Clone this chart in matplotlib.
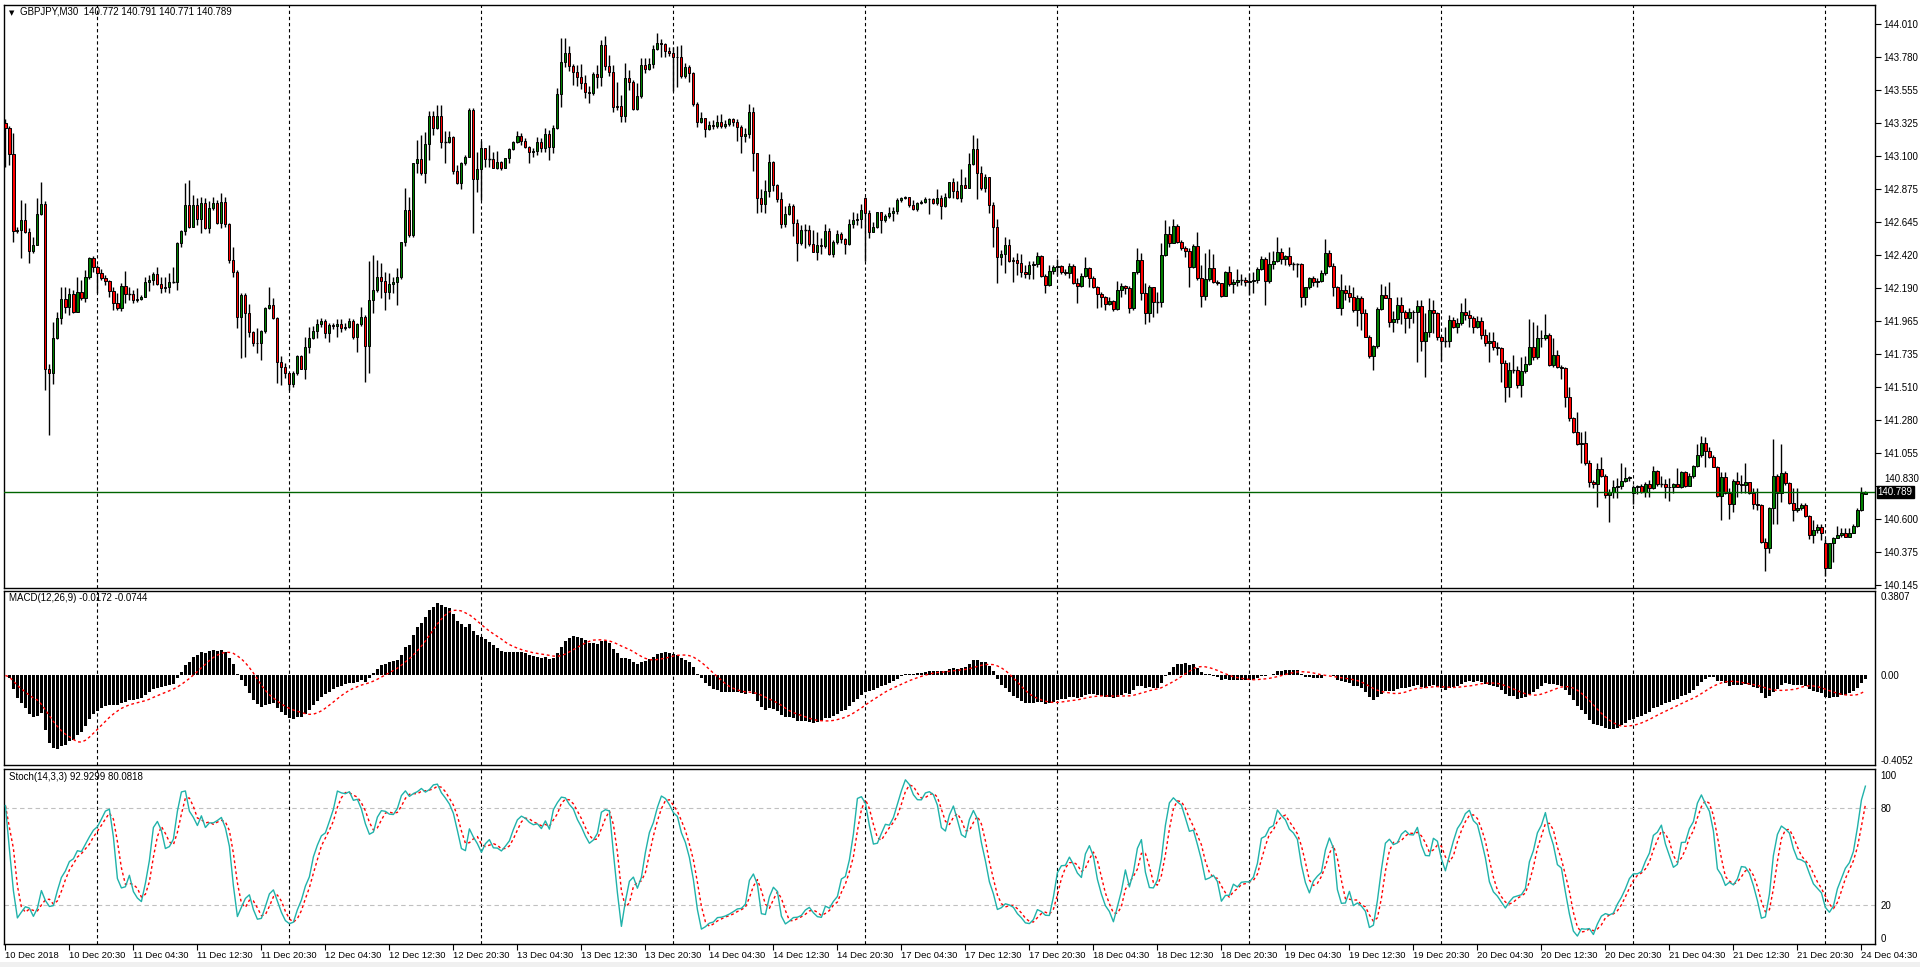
import numpy as np
import pandas as pd
import matplotlib
matplotlib.use("Agg")
import matplotlib.pyplot as plt
from matplotlib.patches import Rectangle

plt.rcParams['font.family'] = ['Liberation Sans', 'DejaVu Sans']

# GBPJPY M30, bar 0 = 10 Dec 2018 12:30
closes = [
    143.290, 143.113, 142.586, 142.590, 142.659, 142.579, 142.448, 142.487, 142.700, 142.769,
    141.631, 141.604, 141.845, 141.982, 142.113, 142.063, 142.150, 142.028, 142.161, 142.120,
    142.269, 142.395, 142.333, 142.292, 142.258, 142.239, 142.173, 142.090, 142.051, 142.205,
    142.150, 142.150, 142.108, 142.118, 142.131, 142.235, 142.246, 142.285, 142.219, 142.189,
    142.196, 142.230, 142.230, 142.498, 142.583, 142.760, 142.613, 142.760, 142.664, 142.774,
    142.602, 142.739, 142.774, 142.636, 142.783, 142.631, 142.384, 142.303, 141.989, 142.143,
    142.017, 141.890, 141.810, 141.815, 141.897, 142.051, 142.072, 141.982, 141.684, 141.650,
    141.608, 141.530, 141.604, 141.723, 141.636, 141.787, 141.845, 141.897, 141.941, 141.966,
    141.884, 141.936, 141.930, 141.941, 141.913, 141.925, 141.966, 141.851, 141.941, 141.989,
    141.794, 142.108, 142.177, 142.264, 142.241, 142.166, 142.219, 142.235, 142.264, 142.505,
    142.728, 142.556, 143.049, 143.077, 142.985, 143.182, 143.375, 143.290, 143.375, 143.194,
    143.194, 143.228, 142.999, 142.916, 143.049, 143.095, 143.416, 142.939, 143.010, 143.152,
    143.077, 143.077, 143.019, 143.061, 143.019, 143.083, 143.145, 143.198, 143.235, 143.203,
    143.164, 143.125, 143.132, 143.194, 143.157, 143.251, 143.164, 143.290, 143.524, 143.744,
    143.806, 143.721, 143.675, 143.641, 143.604, 143.538, 143.535, 143.662, 143.641, 143.863,
    143.721, 143.680, 143.439, 143.444, 143.375, 143.634, 143.607, 143.421, 143.512, 143.726,
    143.696, 143.730, 143.836, 143.875, 143.870, 143.822, 143.806, 143.779, 143.781, 143.652,
    143.710, 143.668, 143.455, 143.331, 143.359, 143.283, 143.313, 143.308, 143.331, 143.308,
    143.317, 143.352, 143.336, 143.301, 143.239, 143.251, 143.400, 143.118, 142.813, 142.767,
    142.859, 143.056, 142.900, 142.801, 142.629, 142.698, 142.755, 142.636, 142.503, 142.590,
    142.590, 142.492, 142.441, 142.487, 142.482, 142.583, 142.423, 142.505, 142.560, 142.526,
    142.492, 142.629, 142.659, 142.666, 142.728, 142.705, 142.579, 142.613, 142.712, 142.659,
    142.687, 142.705, 142.721, 142.797, 142.813, 142.815, 142.762, 142.733, 142.774, 142.785,
    142.804, 142.801, 142.774, 142.808, 142.758, 142.820, 142.918, 142.859, 142.813, 142.898,
    142.882, 143.044, 143.145, 142.985, 142.882, 142.953, 142.760, 142.613, 142.402, 142.425,
    142.485, 142.379, 142.381, 142.365, 142.303, 142.285, 142.349, 142.354, 142.411, 142.276,
    142.212, 142.310, 142.336, 142.342, 142.303, 142.292, 142.342, 142.223, 142.205, 142.274,
    142.331, 142.258, 142.196, 142.150, 142.127, 142.079, 142.102, 142.044, 142.177, 142.205,
    142.189, 142.051, 142.299, 142.384, 142.154, 142.021, 142.196, 142.097, 142.097, 142.418,
    142.560, 142.503, 142.618, 142.510, 142.464, 142.448, 142.333, 142.480, 142.258, 142.138,
    142.251, 142.326, 142.235, 142.223, 142.138, 142.299, 142.216, 142.230, 142.244, 142.244,
    142.235, 142.242, 142.244, 142.324, 142.388, 142.242, 142.354, 142.379, 142.437, 142.388,
    142.411, 142.356, 142.356, 142.356, 142.131, 142.196, 142.258, 142.235, 142.239, 142.292,
    142.430, 142.345, 142.196, 142.056, 142.177, 142.154, 142.131, 142.040, 142.120, 142.017,
    141.856, 141.723, 141.794, 142.044, 142.143, 142.124, 141.959, 141.975, 142.072, 142.028,
    141.982, 142.028, 142.024, 142.067, 141.829, 141.886, 142.040, 142.017, 141.851, 141.829,
    141.829, 141.971, 141.925, 141.948, 142.024, 142.005, 141.982, 141.920, 141.966, 141.868,
    141.815, 141.829, 141.783, 141.776, 141.673, 141.507, 141.627, 141.627, 141.523, 141.622,
    141.668, 141.783, 141.718, 141.845, 141.849, 141.868, 141.661, 141.730, 141.650, 141.640,
    141.443, 141.294, 141.202, 141.117, 141.127, 140.984, 140.858, 140.840, 140.943, 140.899,
    140.766, 140.789, 140.819, 140.831, 140.865, 140.881, 140.888, 140.819, 140.831, 140.789,
    140.840, 140.812, 140.934, 140.842, 140.842, 140.819, 140.824, 140.840, 140.824, 140.922,
    140.828, 140.897, 140.966, 141.042, 141.122, 141.071, 141.026, 140.961, 140.760, 140.893,
    140.778, 140.704, 140.865, 140.842, 140.835, 140.858, 140.778, 140.704, 140.697, 140.445,
    140.399, 140.675, 140.897, 140.782, 140.920, 140.847, 140.714, 140.663, 140.675, 140.697,
    140.622, 140.491, 140.525, 140.548, 140.502, 140.262, 140.434, 140.468, 140.491, 140.502,
    140.480, 140.502, 140.553, 140.663, 140.782, 140.789,
]

highs = [
    143.352, 143.306, 143.255, 142.613, 142.797, 142.778, 142.602, 142.544, 142.808, 142.923,
    142.792, 141.668, 141.959, 142.028, 142.200, 142.200, 142.189, 142.177, 142.269, 142.246,
    142.315, 142.407, 142.411, 142.349, 142.320, 142.281, 142.246, 142.200, 142.154, 142.223,
    142.310, 142.200, 142.177, 142.189, 142.143, 142.269, 142.281, 142.303, 142.338, 142.269,
    142.269, 142.292, 142.333, 142.510, 142.590, 142.911, 142.934, 142.831, 142.808, 142.820,
    142.808, 142.792, 142.815, 142.797, 142.847, 142.815, 142.636, 142.475, 142.315, 142.154,
    142.154, 142.081, 141.897, 141.913, 141.902, 142.063, 142.200, 142.120, 141.989, 141.723,
    141.673, 141.569, 141.622, 141.730, 141.730, 141.851, 141.925, 141.930, 141.975, 141.982,
    141.975, 141.952, 141.948, 141.980, 141.975, 141.948, 141.982, 141.975, 141.952, 142.058,
    142.005, 142.379, 142.418, 142.384, 142.361, 142.303, 142.297, 142.269, 142.326, 142.510,
    142.877, 142.815, 143.054, 143.210, 143.244, 143.267, 143.411, 143.411, 143.450, 143.450,
    143.272, 143.274, 143.237, 143.038, 143.060, 143.106, 143.428, 143.428, 143.129, 143.203,
    143.157, 143.175, 143.129, 143.134, 143.065, 143.088, 143.157, 143.203, 143.272, 143.256,
    143.226, 143.171, 143.157, 143.233, 143.226, 143.290, 143.278, 143.313, 143.570, 143.909,
    143.914, 143.859, 143.730, 143.726, 143.730, 143.657, 143.584, 143.680, 143.726, 143.898,
    143.928, 143.795, 143.726, 143.611, 143.519, 143.737, 143.691, 143.623, 143.600, 143.776,
    143.772, 143.772, 143.864, 143.944, 143.905, 143.875, 143.852, 143.852, 143.859, 143.864,
    143.737, 143.726, 143.675, 143.469, 143.400, 143.363, 143.340, 143.347, 143.382, 143.386,
    143.347, 143.359, 143.363, 143.354, 143.313, 143.290, 143.455, 143.439, 143.102, 142.872,
    142.934, 143.111, 143.065, 142.905, 142.854, 142.758, 142.774, 142.767, 142.666, 142.625,
    142.629, 142.625, 142.590, 142.574, 142.533, 142.629, 142.602, 142.521, 142.590, 142.579,
    142.533, 142.666, 142.712, 142.705, 142.767, 142.820, 142.728, 142.643, 142.717, 142.717,
    142.698, 142.751, 142.751, 142.808, 142.820, 142.824, 142.820, 142.797, 142.781, 142.797,
    142.820, 142.813, 142.808, 142.872, 142.831, 142.843, 142.923, 142.946, 142.930, 143.008,
    142.957, 143.118, 143.244, 143.221, 143.031, 142.976, 142.953, 142.785, 142.664, 142.453,
    142.544, 142.526, 142.407, 142.430, 142.423, 142.349, 142.379, 142.379, 142.439, 142.421,
    142.287, 142.347, 142.349, 142.388, 142.349, 142.320, 142.361, 142.356, 142.258, 142.292,
    142.407, 142.338, 142.274, 142.205, 142.166, 142.136, 142.131, 142.108, 142.241, 142.223,
    142.212, 142.205, 142.303, 142.469, 142.434, 142.228, 142.212, 142.200, 142.166, 142.503,
    142.659, 142.618, 142.664, 142.631, 142.521, 142.480, 142.464, 142.494, 142.579, 142.349,
    142.430, 142.457, 142.425, 142.246, 142.228, 142.310, 142.342, 142.251, 142.320, 142.287,
    142.269, 142.297, 142.303, 142.338, 142.411, 142.407, 142.441, 142.448, 142.540, 142.469,
    142.418, 142.471, 142.372, 142.365, 142.361, 142.200, 142.264, 142.274, 142.258, 142.315,
    142.526, 142.453, 142.361, 142.205, 142.287, 142.212, 142.212, 142.200, 142.143, 142.136,
    142.044, 141.868, 141.799, 142.058, 142.219, 142.207, 142.235, 142.035, 142.131, 142.131,
    142.040, 142.051, 142.040, 142.108, 142.108, 142.017, 142.120, 142.108, 142.028, 141.861,
    141.925, 142.005, 141.994, 141.982, 142.085, 142.120, 142.040, 141.998, 141.998, 141.989,
    141.907, 141.890, 141.890, 141.822, 141.787, 141.695, 141.684, 141.730, 141.654, 141.718,
    141.723, 141.975, 141.959, 141.936, 141.902, 142.012, 141.879, 141.845, 141.764, 141.661,
    141.650, 141.507, 141.305, 141.335, 141.202, 141.209, 141.007, 140.870, 140.984, 141.026,
    140.911, 140.805, 140.870, 140.881, 140.989, 140.961, 140.897, 140.835, 140.835, 140.842,
    140.858, 140.870, 140.966, 140.938, 140.897, 140.874, 140.881, 140.851, 140.950, 140.932,
    140.934, 140.915, 140.973, 141.117, 141.172, 141.168, 141.099, 141.042, 140.966, 140.927,
    140.927, 140.812, 140.874, 140.927, 140.904, 140.984, 140.835, 140.812, 140.812, 140.704,
    140.468, 140.686, 141.149, 140.911, 141.117, 140.934, 140.858, 140.812, 140.812, 140.714,
    140.714, 140.629, 140.594, 140.567, 140.567, 140.461, 140.438, 140.475, 140.553, 140.537,
    140.537, 140.537, 140.567, 140.675, 140.819, 140.791,
]

lows = [
    143.021, 143.038, 142.510, 142.572, 142.395, 142.567, 142.365, 142.430, 142.544, 142.693,
    141.489, 141.179, 141.530, 141.838, 141.943, 142.017, 142.005, 142.017, 142.028, 142.108,
    142.097, 142.251, 142.303, 142.154, 142.246, 142.212, 142.131, 142.040, 142.040, 142.035,
    142.090, 142.108, 142.090, 142.097, 142.108, 142.127, 142.173, 142.212, 142.212, 142.159,
    142.166, 142.154, 142.223, 142.177, 142.475, 142.556, 142.602, 142.609, 142.625, 142.567,
    142.595, 142.572, 142.728, 142.632, 142.602, 142.613, 142.361, 142.264, 141.913, 141.707,
    141.714, 141.851, 141.792, 141.741, 141.695, 141.884, 142.044, 141.975, 141.540, 141.523,
    141.574, 141.489, 141.507, 141.592, 141.631, 141.562, 141.741, 141.838, 141.845, 141.925,
    141.845, 141.822, 141.907, 141.856, 141.890, 141.902, 141.913, 141.838, 141.753, 141.930,
    141.546, 141.608, 142.017, 142.166, 142.120, 142.040, 142.113, 142.154, 142.074, 142.251,
    142.482, 142.544, 142.544, 142.985, 142.969, 142.916, 143.072, 143.244, 143.283, 143.152,
    143.054, 143.187, 142.976, 142.907, 142.870, 143.038, 143.090, 142.572, 142.854, 142.797,
    143.026, 143.026, 143.015, 143.010, 143.003, 143.015, 143.049, 143.141, 143.187, 143.175,
    143.152, 143.054, 143.095, 143.106, 143.125, 143.125, 143.072, 143.118, 143.283, 143.439,
    143.714, 143.685, 143.588, 143.584, 143.561, 143.501, 143.462, 143.519, 143.570, 143.584,
    143.691, 143.652, 143.405, 143.416, 143.331, 143.336, 143.554, 143.416, 143.416, 143.496,
    143.668, 143.691, 143.703, 143.829, 143.783, 143.783, 143.790, 143.547, 143.577, 143.634,
    143.634, 143.611, 143.446, 143.301, 143.324, 143.233, 143.278, 143.283, 143.290, 143.290,
    143.290, 143.308, 143.308, 143.203, 143.118, 143.198, 143.226, 142.996, 142.705, 142.712,
    142.705, 142.820, 142.859, 142.785, 142.606, 142.613, 142.693, 142.551, 142.377, 142.487,
    142.464, 142.482, 142.437, 142.384, 142.423, 142.469, 142.418, 142.407, 142.492, 142.498,
    142.423, 142.487, 142.602, 142.625, 142.602, 142.377, 142.537, 142.574, 142.602, 142.567,
    142.643, 142.671, 142.652, 142.698, 142.785, 142.804, 142.751, 142.728, 142.721, 142.767,
    142.774, 142.698, 142.767, 142.762, 142.666, 142.751, 142.813, 142.813, 142.801, 142.785,
    142.877, 142.877, 143.038, 142.806, 142.865, 142.854, 142.705, 142.471, 142.223, 142.349,
    142.297, 142.372, 142.235, 142.280, 142.269, 142.258, 142.251, 142.251, 142.338, 142.269,
    142.159, 142.207, 142.287, 142.281, 142.287, 142.281, 142.258, 142.219, 142.090, 142.200,
    142.269, 142.200, 142.189, 142.051, 142.058, 142.040, 142.074, 142.035, 142.040, 142.127,
    142.150, 142.021, 142.040, 142.287, 142.108, 141.943, 141.959, 141.994, 142.017, 142.063,
    142.411, 142.475, 142.498, 142.503, 142.453, 142.407, 142.200, 142.326, 142.246, 142.063,
    142.108, 142.242, 142.228, 142.212, 142.131, 142.136, 142.207, 142.159, 142.205, 142.212,
    142.205, 142.143, 142.159, 142.223, 142.315, 142.074, 142.223, 142.320, 142.372, 142.356,
    142.349, 142.342, 142.315, 142.269, 142.063, 142.074, 142.182, 142.205, 142.200, 142.235,
    142.281, 142.338, 142.138, 142.051, 142.005, 142.108, 142.097, 142.028, 141.929, 141.902,
    141.851, 141.707, 141.627, 141.776, 142.040, 142.120, 141.925, 141.890, 141.952, 141.943,
    141.884, 141.913, 141.952, 141.684, 141.760, 141.581, 141.856, 141.879, 141.833, 141.691,
    141.787, 141.787, 141.913, 141.884, 141.936, 141.971, 141.925, 141.879, 141.913, 141.838,
    141.792, 141.684, 141.764, 141.730, 141.546, 141.409, 141.443, 141.604, 141.500, 141.438,
    141.604, 141.661, 141.695, 141.700, 141.787, 141.833, 141.654, 141.650, 141.638, 141.562,
    141.374, 141.278, 141.195, 141.111, 140.984, 140.973, 140.824, 140.812, 140.686, 140.893,
    140.743, 140.583, 140.743, 140.743, 140.805, 140.858, 140.865, 140.704, 140.773, 140.782,
    140.755, 140.750, 140.805, 140.828, 140.824, 140.743, 140.727, 140.782, 140.819, 140.812,
    140.819, 140.851, 140.881, 140.961, 141.030, 140.961, 141.019, 140.957, 140.755, 140.594,
    140.773, 140.599, 140.652, 140.755, 140.778, 140.782, 140.773, 140.668, 140.663, 140.438,
    140.246, 140.365, 140.567, 140.567, 140.720, 140.835, 140.704, 140.590, 140.652, 140.663,
    140.613, 140.461, 140.438, 140.502, 140.457, 140.209, 140.308, 140.308, 140.468, 140.475,
    140.475, 140.475, 140.502, 140.544, 140.658, 140.771,
]

first_open = 143.324
# opens that do not equal the previous close (session gaps)
open_gaps = {215: 142.813, 407: 140.782, 455: 140.434, 465: 140.772}
last_price = 140.789

price_ticks = [144.010, 143.780, 143.555, 143.325, 143.100, 142.875, 142.645, 142.420, 142.190,
               141.965, 141.735, 141.510, 141.280, 141.055, 140.830, 140.600, 140.375, 140.145]
macd_ticks = [0.3807, 0.0, -0.4052]
macd_tick_labels = ['0.3807', '0.00', '-0.4052']
stoch_ticks = [100, 80, 20, 0]

# bar index of the first bar of each trading day
day_starts = [23, 71, 119, 167, 215, 263, 311, 359, 407, 455]
time_labels = ["10 Dec 2018", "10 Dec 20:30", "11 Dec 04:30", "11 Dec 12:30", "11 Dec 20:30",
               "12 Dec 04:30", "12 Dec 12:30", "12 Dec 20:30", "13 Dec 04:30", "13 Dec 12:30",
               "13 Dec 20:30", "14 Dec 04:30", "14 Dec 12:30", "14 Dec 20:30", "17 Dec 04:30",
               "17 Dec 12:30", "17 Dec 20:30", "18 Dec 04:30", "18 Dec 12:30", "18 Dec 20:30",
               "19 Dec 04:30", "19 Dec 12:30", "19 Dec 20:30", "20 Dec 04:30", "20 Dec 12:30",
               "20 Dec 20:30", "21 Dec 04:30", "21 Dec 12:30", "21 Dec 20:30", "24 Dec 04:30"]

n = len(closes)
opens = [first_open] + closes[:-1]
for k in open_gaps:
    opens[k] = open_gaps[k]

o = np.array(opens)
c = np.array(closes)
h = np.maximum(np.array(highs), np.maximum(o, c))
l = np.minimum(np.array(lows), np.minimum(o, c))
x = np.arange(n)

# indicators, MT4 style
cs = pd.Series(c)
macd = cs.ewm(span=12, adjust=False).mean() - cs.ewm(span=26, adjust=False).mean()
macd_sig = macd.rolling(9, min_periods=1).mean()

hs = pd.Series(h)
ls_ = pd.Series(l)
ll = ls_.rolling(14, min_periods=1).min()
hh = hs.rolling(14, min_periods=1).max()
num = (cs - ll).rolling(3, min_periods=1).sum()
den = (hh - ll).rolling(3, min_periods=1).sum()
stoch_k = 100 * num / den
stoch_d = stoch_k.rolling(3, min_periods=1).mean()

W, H = 1920, 967
fig = plt.figure(figsize=(W / 100, H / 100), dpi=100)
fig.patch.set_facecolor('white')
# light grey window strip at the bottom
fig.patches.append(Rectangle((0, 0), 1, 5 / H, transform=fig.transFigure,
                             facecolor='#f0f0f0', edgecolor='none', zorder=0))
left = 4 / W
width = 1871 / W
ax1 = fig.add_axes([left, 1 - 588 / H, width, 583 / H])
ax2 = fig.add_axes([left, 1 - 765 / H, width, 174 / H])
ax3 = fig.add_axes([left, 1 - 944 / H, width, 175 / H])

xlim = (-0.35, 467.4)
grid_style = dict(color='black', lw=0.8, ls=(0, (3, 2.5)), zorder=1)

for ax in (ax1, ax2, ax3):
    ax.set_xlim(*xlim)
    ax.set_facecolor('white')
    for s in ax.spines.values():
        s.set_color('black')
        s.set_linewidth(1.0)
    for d in day_starts:
        ax.axvline(d, **grid_style)
    ax.yaxis.tick_right()

# --- price panel ---
up = c > o
down = c < o
doji = c == o
ax1.vlines(x, l, h, color='black', lw=1.0, zorder=2)
ax1.bar(x[up], (c - o)[up], bottom=o[up], width=0.55, color='#008000',
        edgecolor='black', lw=0.7, zorder=3)
ax1.bar(x[down], (c - o)[down], bottom=o[down], width=0.55, color='#ff0000',
        edgecolor='black', lw=0.7, zorder=3)
ax1.hlines(c[doji], x[doji] - 0.35, x[doji] + 0.35, color='black', lw=1.0, zorder=3)
ax1.axhline(last_price, color='#006400', lw=1.0, zorder=4)
ax1.set_ylim(140.126, 144.139)
ax1.set_yticks(price_ticks)
# the tick next to the bid box gets its label drawn by hand, nudged above the box
main_labels = ['%.3f' % p for p in price_ticks]
hidden = min(range(len(price_ticks)), key=lambda i: abs(price_ticks[i] - last_price))
ax1.set_yticklabels(['' if i == hidden else s for i, s in enumerate(main_labels)])
ax1.tick_params(axis='y', length=4, width=0.8, labelsize=7, pad=2)
ax1.set_xticks([])
ax1.annotate(main_labels[hidden], xy=(1.0, price_ticks[hidden]), xycoords=ax1.get_yaxis_transform(),
             xytext=(7, 1.5), textcoords='offset points', ha='left', va='bottom',
             fontsize=7, annotation_clip=False)
ax1.text(1.0015, last_price, '%.3f' % last_price, transform=ax1.get_yaxis_transform(),
         ha='left', va='center', fontsize=7, color='white', clip_on=False, zorder=10,
         bbox=dict(boxstyle='square,pad=0.12', fc='black', ec='black'))

# --- MACD panel ---
ax2.bar(x, macd, width=0.6, color='black', zorder=2)
ax2.plot(x, macd_sig, color='red', lw=1.0, ls=(0, (2, 2)), zorder=3)
ax2.set_ylim(-0.429, 0.405)
ax2.set_yticks(macd_ticks)
ax2.set_yticklabels(macd_tick_labels)
ax2.tick_params(axis='y', length=0, labelsize=7, pad=4)
ax2.set_xticks([])

# --- Stochastic panel ---
ax3.axhline(80, color='#c0c0c0', lw=0.8, ls=(0, (4, 3)), zorder=1)
ax3.axhline(20, color='#c0c0c0', lw=0.8, ls=(0, (4, 3)), zorder=1)
ax3.plot(x, stoch_k, color='#20b2aa', lw=1.0, zorder=3)
ax3.plot(x, stoch_d, color='red', lw=1.0, ls=(0, (2, 2)), zorder=2)
ax3.set_ylim(-3.7, 103.7)
ax3.set_yticks(stoch_ticks)
ax3.set_yticklabels([str(v) for v in stoch_ticks])
ax3.tick_params(axis='y', length=0, labelsize=7, pad=4)

ax3.set_xticks(range(0, 16 * len(time_labels), 16))
ax3.set_xticklabels(time_labels, ha='left')
ax3.tick_params(axis='x', length=4, width=0.8, labelsize=6.8, pad=1)

# panel captions
fig.text(9 / W, 1 - 13 / H, '\u25bc', fontsize=5, va='center', family=['DejaVu Sans'])
fig.text(20 / W, 1 - 12 / H, 'GBPJPY,M30  140.772 140.791 140.771 140.789', fontsize=7, va='center')
fig.text(9 / W, 1 - 598 / H, 'MACD(12,26,9) -0.0172 -0.0744', fontsize=7, va='center')
fig.text(9 / W, 1 - 777 / H, 'Stoch(14,3,3) 92.9299 80.0818', fontsize=7, va='center')

fig.savefig('out.png', dpi=100, facecolor='white')
